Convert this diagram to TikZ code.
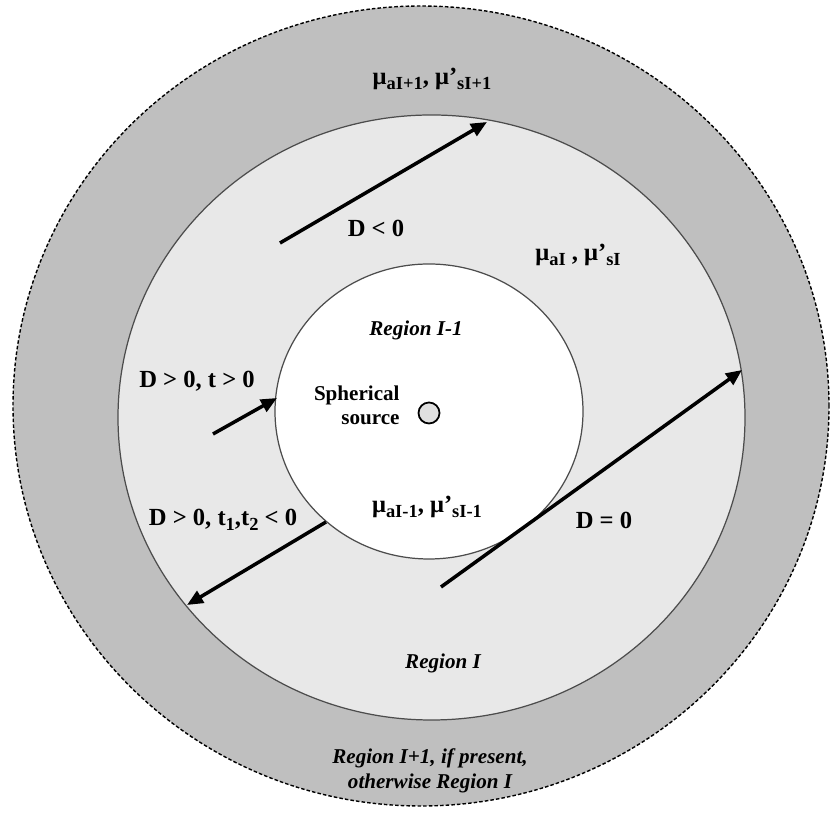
\documentclass[tikz,border=0pt]{standalone}
\usepackage{fontspec}
\setmainfont{Liberation Serif}
\usetikzlibrary{arrows.meta}

\newcommand{\lsub}[1]{\raisebox{-0.4ex}{\fontsize{10.5}{11}\selectfont #1}}

\tikzset{
  ray/.style={line width=2pt,-{Triangle[length=0.32cm,width=0.27cm]}},
  lab/.style={font=\fontsize{14}{16}\selectfont\bfseries},
  reg/.style={font=\fontsize{12}{14.2}\selectfont\bfseries\itshape,align=center},
}

\begin{document}
\begin{tikzpicture}[x=1cm,y=1cm,line width=0.7pt]
 \useasboundingbox[fill=white] (0,0) rectangle (16.66,16.32);
 % three shells
 \draw[fill=black!25,line width=0.8pt,dash pattern=on 2pt off 1.2pt] (8.42,8.20) ellipse[x radius=8.16cm,y radius=8cm];
 \draw[draw=black!70,fill=black!9] (8.63,7.97) ellipse[x radius=6.27cm,y radius=6.05cm];
 \draw[draw=black!70,fill=white] (8.58,8.09) ellipse[x radius=3.08cm,y radius=2.95cm];
 \draw[fill=black!12,line width=1pt] (8.58,8.06) circle[radius=0.21cm];

 % rays
 \foreach \n/\sx/\sy/\tx/\ty in {neg/5.60/11.46/9.74/13.88,in/4.26/7.64/5.54/8.36,out/6.52/5.88/3.74/4.22,tan/8.82/4.58/14.84/8.92}{%
   \coordinate (\n s) at (\sx,\sy);
   \coordinate (\n t) at (\tx,\ty);
   \draw[ray] (\n s) -- (\n t);
 }

 % labels
 \node[lab] (muout) at (8.64,14.74) {μ\lsub{aI+1}, μ'\lsub{sI+1}};
 \node[lab] (muin) at (11.56,11.22) {μ\lsub{aI} , μ'\lsub{sI}};
 \node[lab] (mucore) at (8.54,6.18) {μ\lsub{aI-1}, μ'\lsub{sI-1}};
 \node[lab] (dneg) at (7.52,11.76) {D < 0};
 \node[lab] (din) at (3.94,8.70) {D > 0, t > 0};
 \node[lab] (dout) at (4.46,5.92) {D > 0, t\lsub{1},t\lsub{2} < 0};
 \node[lab] (dtan) at (12.08,5.92) {D = 0};
 \node[font=\fontsize{12}{13.5}\selectfont\bfseries,align=right,anchor=east] (src) at (8.12,8.22) {Spherical\\source};
 \node[reg] (regcore) at (8.32,9.72) {Region I-1};
 \node[reg] (regmid) at (8.86,3.06) {Region I};
 \node[reg] (regout) at (8.60,0.90) {Region I+1, if present,\\otherwise Region I};
\end{tikzpicture}
\end{document}
